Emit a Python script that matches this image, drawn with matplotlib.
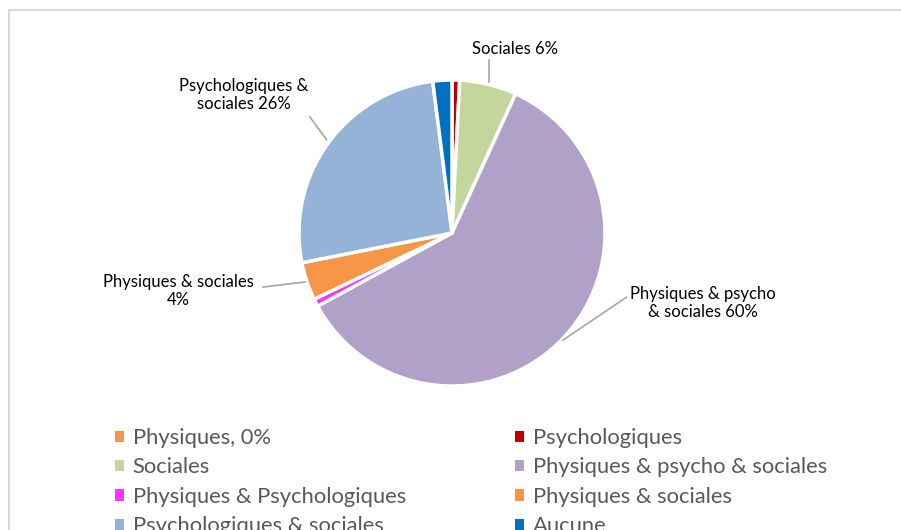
import numpy as np
import matplotlib.pyplot as plt
from matplotlib.patches import Patch, Rectangle

plt.rcParams['font.family'] = ['Lato', 'DejaVu Sans']

# données
categories = ['Physiques, 0%', 'Psychologiques', 'Sociales', 'Physiques & psycho & sociales',
              'Physiques & Psychologiques', 'Physiques & sociales', 'Psychologiques & sociales', 'Aucune']
valeurs = [0, 0.8, 6, 60, 0.8, 4, 26, 2]
couleurs = ['#F79646', '#C00000', '#C3D69B', '#B1A0C7', '#FF33FF', '#F79646', '#95B3D7', '#0070C0']
etiquettes = {2: 'Sociales 6%', 3: 'Physiques & psycho\n& sociales 60%',
              5: 'Physiques & sociales\n4%', 6: 'Psychologiques &\nsociales 26%'}

W, H = 901, 530
fig = plt.figure(figsize=(W / 100, H / 100), dpi=100)

# cadre du graphique
fig.patches.append(Rectangle((8.5 / W, -0.1), 1.2, (H - 9.5) / H + 0.1, transform=fig.transFigure,
                             fill=False, edgecolor='#D9D9D9', linewidth=1.5))

cx, cy, r = 452, 233, 153
ax = fig.add_axes([(cx - r) / W, (H - cy - r) / H, 2 * r / W, 2 * r / H])
wedges, _ = ax.pie(valeurs, colors=couleurs, startangle=90, counterclock=False, radius=1,
                   wedgeprops=dict(edgecolor='white', linewidth=2.5))
ax.set_xlim(-1, 1)
ax.set_ylim(-1, 1)
ax.set_aspect('equal')
ax.axis('off')

# étiquettes et lignes de rappel (coordonnées des données du camembert)
pos = {2: ((0.41, 1.20), (0.24, 1.13), (0.24, 0.99)),
       3: ((1.64, -0.46), (1.14, -0.42), (0.725, -0.70)),
       5: ((-1.79, -0.38), (-1.235, -0.353), (-0.96, -0.32)),
       6: ((-1.36, 0.90), (-0.93, 0.76), (-0.82, 0.61))}
for i, txt in etiquettes.items():
    (tx, ty), p0, p1 = pos[i]
    ax.text(tx, ty, txt, ha='center', va='center', fontsize=12, color='#000000',
            linespacing=1.15, clip_on=False)
    ax.plot([p0[0], p1[0]], [p0[1], p1[1]], color='#A6A6A6', linewidth=1.2, clip_on=False)

# légende sur deux colonnes
handles = [Patch(facecolor=c, edgecolor='none') for c in couleurs]
kw = dict(frameon=False, fontsize=15.8, handlelength=0.4, handleheight=0.4, handletextpad=0.4,
          labelspacing=0.43, borderpad=0, borderaxespad=0, labelcolor='#595959', loc='upper left')
leg1 = fig.legend([handles[i] for i in range(0, 8, 2)], [categories[i] for i in range(0, 8, 2)],
                  bbox_to_anchor=(115 / W, (H - 428) / H), **kw)
fig.legend([handles[i] for i in range(1, 8, 2)], [categories[i] for i in range(1, 8, 2)],
           bbox_to_anchor=(515 / W, (H - 428) / H), **kw)

fig.savefig('out.png', dpi=100)
